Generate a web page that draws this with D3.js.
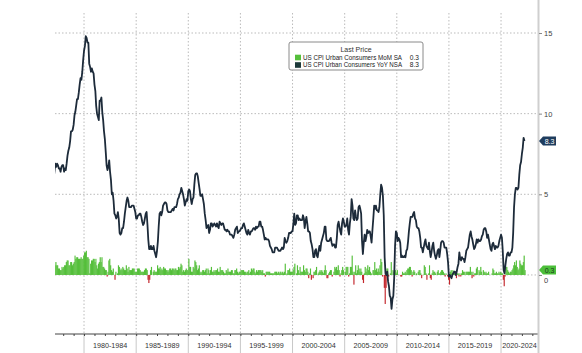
<!DOCTYPE html>
<html>
<head>
<meta charset="utf-8">
<script src="https://cdn.jsdelivr.net/npm/d3@7"></script>
<style>
  body { margin: 0; background: #fff; }
  svg { display: block; font-family: "Liberation Sans", Arial, sans-serif; }
</style>
</head>
<body>
<div id="chart-area"></div>
<script>
// monthly data, Jan 1977 .. Apr 2022
var firstMonth = new Date(1977, 0, 1);

// US CPI Urban Consumers YoY NSA
var yoy = [
  5.2,6.0,6.4,6.9,6.7,6.9,6.8,6.6,6.6,6.4,6.7,6.8,   // 1977
  6.8,6.4,6.6,6.5,6.9,7.4,7.7,7.9,8.3,8.9,8.9,9.0,   // 1978
  9.3,9.9,10.1,10.5,10.9,10.9,11.3,11.8,12.2,12.1,12.6,13.3,
  13.9,14.2,14.8,14.7,14.4,14.4,13.1,12.9,12.6,12.8,12.6,12.5, // 1980
  11.8,11.4,10.5,10.0,9.8,9.6,10.8,10.8,11.0,10.1,9.6,8.9,
  8.4,7.6,6.8,6.5,6.7,7.1,6.4,5.9,5.0,5.1,4.6,3.8,
  3.7,3.5,3.6,3.9,3.5,2.6,2.5,2.6,2.9,2.9,3.3,3.8,
  4.2,4.6,4.8,4.6,4.2,4.2,4.2,4.3,4.3,4.3,4.1,3.9,
  3.5,3.5,3.7,3.7,3.8,3.8,3.6,3.3,3.1,3.2,3.5,3.8,   // 1985
  3.9,3.1,2.2,1.6,1.6,1.8,1.6,1.6,1.8,1.5,1.3,1.1,
  1.5,2.1,3.0,3.8,3.9,3.7,3.9,4.3,4.4,4.5,4.5,4.4,
  4.0,3.9,3.9,3.9,3.9,4.0,4.1,4.0,4.2,4.2,4.2,4.4,
  4.7,4.8,5.0,5.1,5.4,5.2,5.0,4.7,4.3,4.5,4.7,4.6,
  5.2,5.3,5.2,4.7,4.4,4.7,4.8,5.6,6.2,6.3,6.3,6.1,   // 1990
  5.7,5.3,4.9,4.9,5.0,4.7,4.4,3.8,3.4,2.9,3.0,3.1,
  2.6,2.8,3.2,3.2,3.0,3.1,3.2,3.1,3.0,3.2,3.0,2.9,
  3.3,3.2,3.1,3.2,3.2,3.0,2.8,2.8,2.7,2.8,2.7,2.7,
  2.5,2.5,2.5,2.4,2.3,2.5,2.8,2.9,3.0,2.6,2.7,2.7,
  2.8,2.9,2.9,3.1,3.2,3.0,2.8,2.6,2.5,2.8,2.6,2.5,   // 1995
  2.7,2.7,2.8,2.9,2.9,2.8,3.0,2.9,3.0,3.0,3.3,3.3,
  3.0,3.0,2.8,2.5,2.2,2.3,2.2,2.2,2.2,2.1,1.8,1.7,
  1.6,1.4,1.4,1.4,1.7,1.7,1.7,1.6,1.5,1.5,1.5,1.6,
  1.7,1.6,1.7,2.3,2.1,2.0,2.1,2.3,2.6,2.6,2.6,2.7,
  2.7,3.2,3.8,3.1,3.2,3.7,3.7,3.4,3.5,3.4,3.4,3.4,   // 2000
  3.7,3.5,2.9,3.3,3.6,3.2,2.7,2.7,2.6,2.1,1.9,1.6,
  1.1,1.1,1.5,1.6,1.2,1.1,1.5,1.8,1.5,2.0,2.2,2.4,
  2.6,3.0,3.0,2.2,2.1,2.1,2.1,2.2,2.3,2.0,1.8,1.9,
  1.9,1.7,1.7,2.3,3.1,3.3,3.0,2.7,2.5,3.2,3.5,3.3,
  3.0,3.0,3.1,3.5,2.8,2.5,3.2,3.6,4.7,4.3,3.5,3.4,   // 2005
  4.0,3.6,3.4,3.5,4.2,4.3,4.1,3.8,2.1,1.3,2.0,2.5,
  2.1,2.4,2.8,2.6,2.7,2.7,2.4,2.0,2.8,3.5,4.3,4.1,
  4.3,4.0,4.0,3.9,4.2,5.0,5.6,5.4,4.9,3.7,1.1,0.1,
  0.0,0.2,-0.4,-0.7,-1.3,-1.4,-2.1,-1.5,-1.3,-0.2,1.8,2.7,
  2.6,2.1,2.3,2.2,2.0,1.1,1.2,1.1,1.1,1.2,1.1,1.5,   // 2010
  1.6,2.1,2.7,3.2,3.6,3.6,3.6,3.8,3.9,3.5,3.4,3.0,
  2.9,2.9,2.7,2.3,1.7,1.7,1.4,1.7,2.0,2.2,1.8,1.7,
  1.6,2.0,1.5,1.1,1.4,1.8,2.0,1.5,1.2,1.0,1.2,1.5,
  1.6,1.1,1.5,2.0,2.1,2.1,2.0,1.7,1.7,1.7,1.3,0.8,
  -0.1,0.0,-0.1,-0.2,0.0,0.1,0.2,0.2,0.0,0.2,0.5,0.7, // 2015
  1.4,1.0,0.9,1.1,1.0,1.0,0.8,1.1,1.5,1.6,1.7,2.1,
  2.5,2.7,2.4,2.2,1.9,1.6,1.7,1.9,2.2,2.0,2.2,2.1,
  2.1,2.2,2.4,2.5,2.8,2.9,2.9,2.7,2.3,2.5,2.2,1.9,
  1.6,1.5,1.9,2.0,1.8,1.6,1.8,1.7,1.7,1.8,2.1,2.3,
  2.5,2.3,1.5,0.3,0.1,0.6,1.0,1.3,1.4,1.2,1.2,1.4,   // 2020
  1.4,1.7,2.6,4.2,5.0,5.4,5.4,5.3,5.4,6.2,6.8,7.0,
  7.5,7.9,8.5,8.3
];

// US CPI Urban Consumers MoM SA
var mom = [
  0.6,1.0,0.6,0.8,0.6,0.6,0.4,0.4,0.3,0.3,0.5,0.4,   // 1977
  0.5,0.6,0.6,0.8,0.9,0.9,0.6,0.6,0.8,0.8,0.6,0.7,
  0.8,1.2,1.0,1.1,1.1,1.0,1.0,1.0,1.1,1.0,1.0,1.2,
  1.4,1.4,1.5,1.1,1.1,1.0,0.1,0.7,0.9,0.9,1.0,1.0,   // 1980
  0.8,1.0,0.6,0.4,0.7,0.8,1.1,0.8,1.1,0.5,0.5,0.4,
  0.3,0.3,-0.1,0.2,0.9,1.0,0.6,0.3,0.2,0.4,0.0,-0.3,
  0.2,0.0,0.1,0.6,0.5,0.3,0.4,0.3,0.5,0.4,0.3,0.3,
  0.6,0.4,0.2,0.5,0.3,0.3,0.3,0.4,0.4,0.4,0.2,0.2,
  0.2,0.4,0.4,0.4,0.3,0.2,0.2,0.2,0.2,0.3,0.4,0.4,   // 1985
  0.3,-0.3,-0.5,-0.3,0.3,0.5,0.0,0.2,0.3,0.2,0.2,0.2,
  0.6,0.4,0.4,0.5,0.3,0.4,0.3,0.5,0.4,0.4,0.3,0.3,
  0.2,0.3,0.4,0.4,0.3,0.4,0.4,0.3,0.4,0.4,0.3,0.3,
  0.5,0.4,0.5,0.7,0.6,0.2,0.3,0.2,0.3,0.4,0.3,0.3,
  1.0,0.5,0.5,0.2,0.2,0.5,0.4,0.9,0.8,0.6,0.3,0.4,   // 1990
  0.6,0.2,0.1,0.2,0.3,0.3,0.2,0.3,0.4,0.1,0.4,0.3,
  0.1,0.3,0.5,0.2,0.2,0.3,0.2,0.3,0.3,0.4,0.2,0.2,
  0.5,0.3,0.3,0.3,0.2,0.1,0.1,0.3,0.2,0.4,0.2,0.2,
  0.2,0.3,0.3,0.1,0.1,0.3,0.3,0.4,0.2,0.1,0.2,0.2,
  0.3,0.3,0.3,0.3,0.2,0.2,0.1,0.2,0.2,0.3,0.1,0.2,   // 1995
  0.4,0.3,0.4,0.4,0.2,0.1,0.3,0.2,0.3,0.3,0.3,0.3,
  0.2,0.3,0.1,0.1,-0.1,0.2,0.2,0.2,0.2,0.2,0.1,0.1,
  0.1,0.1,0.1,0.2,0.2,0.2,0.1,0.2,0.1,0.2,0.2,0.1,
  0.2,0.1,0.2,0.7,0.0,0.1,0.3,0.3,0.4,0.2,0.2,0.2,
  0.3,0.5,0.7,0.0,0.1,0.6,0.3,0.1,0.5,0.2,0.2,0.2,   // 2000
  0.6,0.3,0.2,0.4,0.4,0.2,-0.2,0.1,0.4,-0.3,0.0,-0.2,
  0.2,0.2,0.3,0.5,0.0,0.1,0.2,0.3,0.2,0.3,0.2,0.1,
  0.3,0.6,0.3,-0.2,-0.2,0.1,0.2,0.3,0.3,-0.1,0.0,0.2,
  0.5,0.4,0.5,0.3,0.6,0.3,-0.1,0.1,0.3,0.5,0.3,0.0,
  0.2,0.5,0.5,0.5,-0.1,0.1,0.5,0.5,1.2,0.2,-0.6,0.2,  // 2005
  0.6,0.1,0.3,0.6,0.4,0.2,0.4,0.2,-0.3,-0.5,0.1,0.5,
  0.2,0.4,0.6,0.3,0.5,0.2,0.1,0.0,0.3,0.3,0.8,0.3,
  0.4,0.2,0.4,0.2,0.6,1.0,0.8,-0.1,0.0,-0.8,-1.8,-0.8,
  0.4,0.4,-0.1,0.0,0.1,0.8,0.0,0.3,0.2,0.2,0.3,0.1,
  0.3,0.0,0.0,0.0,-0.1,-0.1,0.2,0.1,0.1,0.2,0.1,0.3,  // 2010
  0.4,0.4,0.5,0.5,0.3,-0.1,0.2,0.3,0.2,0.0,0.1,0.0,
  0.2,0.3,0.3,0.1,-0.2,0.0,0.0,0.6,0.5,0.1,-0.3,0.0,
  0.1,0.6,-0.2,-0.3,0.1,0.3,0.2,0.2,0.1,0.0,0.2,0.3,
  0.1,0.1,0.2,0.3,0.3,0.2,0.1,-0.1,0.1,0.0,-0.1,-0.3,
  -0.6,0.2,0.3,0.1,0.3,0.2,0.1,0.0,-0.2,0.1,0.1,-0.1, // 2015
  0.1,-0.1,0.1,0.3,0.2,0.2,0.0,0.2,0.2,0.2,0.2,0.2,
  0.5,0.2,-0.2,0.2,-0.1,0.1,0.1,0.4,0.5,0.0,0.3,0.2,
  0.5,0.2,0.0,0.3,0.2,0.1,0.2,0.1,0.1,0.2,0.0,0.0,
  0.0,0.1,0.4,0.3,0.1,0.1,0.2,0.1,0.1,0.2,0.1,0.2,
  0.1,0.1,-0.3,-0.7,-0.1,0.5,0.5,0.3,0.2,0.1,0.2,0.2, // 2020
  0.3,0.4,0.6,0.8,0.6,0.9,0.5,0.3,0.4,0.9,0.7,0.6,
  0.6,0.8,1.2,0.3
];

var periodLabels = ["1980-1984", "1985-1989", "1990-1994", "1995-1999",
  "2000-2004", "2005-2009", "2010-2014", "2015-2019", "2020-2024"];
var periodStarts = [1980, 1985, 1990, 1995, 2000, 2005, 2010, 2015, 2020];
var yTicks = [0, 5, 10, 15];
var legendNames = ["US CPI Urban Consumers MoM SA", "US CPI Urban Consumers YoY NSA"];
var lastMom = 0.3;
var lastYoy = 8.3;

var width = 582;
var height = 353;
var plot = {left: 55, right: 538, top: 13, bottom: 334};

var green = "#55bf3b";
var red = "#c3262c";
var navy = "#1d2b3a";

var data = yoy.map(function(v, i) {
    return {date: d3.timeMonth.offset(firstMonth, i), yoy: v, mom: mom[i]};
});

var svg = d3.select("#chart-area")
    .append("svg")
        .attr("width", width)
        .attr("height", height);

svg.append("defs").append("clipPath")
    .attr("id", "clip")
    .append("rect")
        .attr("x", plot.left)
        .attr("y", plot.top)
        .attr("width", plot.right - plot.left)
        .attr("height", plot.bottom - plot.top);

var x = d3.scaleTime()
    .domain([new Date(1977, 2, 20), new Date(2023, 6, 19)])
    .range([plot.left, plot.right]);

var y = d3.scaleLinear()
    .domain([-3.66, 16.24])
    .range([plot.bottom, plot.top]);

// horizontal grid
svg.append("g")
    .selectAll("line")
    .data(yTicks)
    .enter().append("line")
        .attr("x1", plot.left)
        .attr("x2", plot.right)
        .attr("y1", function(d) { return y(d); })
        .attr("y2", function(d) { return y(d); })
        .attr("stroke", "#bbb")
        .attr("stroke-width", 1)
        .attr("stroke-dasharray", "1.5,2");

// vertical grid, dotted in the plot, solid in the label band
var vg = svg.append("g");
vg.selectAll("line.dot")
    .data(periodStarts)
    .enter().append("line")
        .attr("class", "dot")
        .attr("x1", function(d) { return x(new Date(d, 0, 1)); })
        .attr("x2", function(d) { return x(new Date(d, 0, 1)); })
        .attr("y1", plot.top)
        .attr("y2", plot.bottom)
        .attr("stroke", "#bbb")
        .attr("stroke-dasharray", "1.5,2");
vg.selectAll("line.sep")
    .data(periodStarts)
    .enter().append("line")
        .attr("class", "sep")
        .attr("x1", function(d) { return x(new Date(d, 0, 1)); })
        .attr("x2", function(d) { return x(new Date(d, 0, 1)); })
        .attr("y1", plot.bottom)
        .attr("y2", height)
        .attr("stroke", "#c8c8c8");

var chart = svg.append("g").attr("clip-path", "url(#clip)");

// MoM bars
chart.append("g")
    .selectAll("rect")
    .data(data)
    .enter().append("rect")
        .attr("x", function(d) { return x(d.date); })
        .attr("width", function(d) { return x(d3.timeMonth.offset(d.date, 1)) - x(d.date) + 0.3; })
        .attr("y", function(d) { return y(Math.max(0, d.mom)); })
        .attr("height", function(d) { return Math.abs(y(d.mom) - y(0)); })
        .attr("fill", function(d) { return d.mom < 0 ? red : green; });

// YoY line
var line = d3.line()
    .x(function(d) { return x(d.date); })
    .y(function(d) { return y(d.yoy); });

chart.append("path")
    .datum(data)
    .attr("fill", "none")
    .attr("stroke", navy)
    .attr("stroke-width", 1.8)
    .attr("stroke-linejoin", "round")
    .attr("d", line);

// x axis
var xAxisCall = d3.axisBottom(x)
    .ticks(d3.timeYear.every(1))
    .tickSize(2)
    .tickFormat("");

var xAxisGroup = svg.append("g")
    .attr("transform", "translate(0, " + plot.bottom + ")")
    .call(xAxisCall);
xAxisGroup.select(".domain").attr("stroke", "#444").attr("d", "M" + plot.left + ",0H" + plot.right);
xAxisGroup.selectAll(".tick line").attr("stroke", "#444");

svg.append("g")
    .selectAll("text")
    .data(periodStarts)
    .enter().append("text")
        .attr("x", function(d) {
            var a = x(new Date(d, 0, 1));
            var b = Math.min(plot.right, x(new Date(d + 5, 0, 1)));
            return (a + b) / 2;
        })
        .attr("y", 348)
        .attr("text-anchor", "middle")
        .attr("font-size", "7.2px")
        .attr("fill", "#333")
        .text(function(d, i) { return periodLabels[i]; });

// right axis
svg.append("line")
    .attr("x1", plot.right + 0.5)
    .attr("x2", plot.right + 0.5)
    .attr("y1", 0)
    .attr("y2", height)
    .attr("stroke", "#cfcfcf")
    .attr("stroke-width", 2);

var yAxisCall = d3.axisRight(y)
    .tickValues(yTicks)
    .tickSize(3)
    .tickPadding(2);

var yAxisGroup = svg.append("g")
    .attr("transform", "translate(" + (plot.right + 1) + ", 0)")
    .call(yAxisCall);
yAxisGroup.select(".domain").remove();
yAxisGroup.selectAll(".tick line").attr("stroke", "#888");
yAxisGroup.selectAll(".tick text")
    .attr("font-size", "7.5px")
    .attr("fill", "#444")
    .attr("font-family", "Liberation Sans, Arial, sans-serif")
    .attr("dy", function(d) { return d === 0 ? "1em" : "0.32em"; });

// last value tags
function tag(value, fill, textFill) {
    var ty = y(value);
    var g = svg.append("g").attr("transform", "translate(" + (plot.right + 1) + "," + ty + ")");
    g.append("path")
        .attr("d", "M0,0L4,-4.5H17V4.5H4Z")
        .attr("fill", fill);
    g.append("text")
        .attr("x", 10.5)
        .attr("y", 2.5)
        .attr("text-anchor", "middle")
        .attr("font-size", "7px")
        .attr("fill", textFill)
        .text(d3.format(".1f")(value));
}
tag(lastYoy, "#1f3d5e", "#fff");
tag(lastMom, "#4cbf3a", "#1a3a1a");

// legend
var legend = svg.append("g").attr("transform", "translate(289, 42)");
legend.append("rect")
    .attr("width", 134)
    .attr("height", 28)
    .attr("rx", 2)
    .attr("fill", "#fff")
    .attr("stroke", "#8a8a8a");
legend.append("text")
    .attr("x", 67)
    .attr("y", 9.5)
    .attr("text-anchor", "middle")
    .attr("font-size", "7px")
    .attr("fill", "#333")
    .text("Last Price");

var legendColors = [green, "#1d3a3a"];
var legendValues = [lastMom, lastYoy];
legendNames.forEach(function(name, i) {
    var row = legend.append("g").attr("transform", "translate(0," + (15.5 + i * 7.5) + ")");
    row.append("rect")
        .attr("x", 6)
        .attr("y", -2.8)
        .attr("width", 6)
        .attr("height", 5.6)
        .attr("fill", legendColors[i]);
    row.append("text")
        .attr("x", 14)
        .attr("y", 2.4)
        .attr("font-size", "6.6px")
        .attr("textLength", 99)
        .attr("lengthAdjust", "spacingAndGlyphs")
        .attr("fill", "#222")
        .text(name);
    row.append("text")
        .attr("x", 130)
        .attr("y", 2.4)
        .attr("text-anchor", "end")
        .attr("font-size", "6.6px")
        .attr("fill", "#222")
        .text(d3.format(".1f")(legendValues[i]));
});
</script>
</body>
</html>
